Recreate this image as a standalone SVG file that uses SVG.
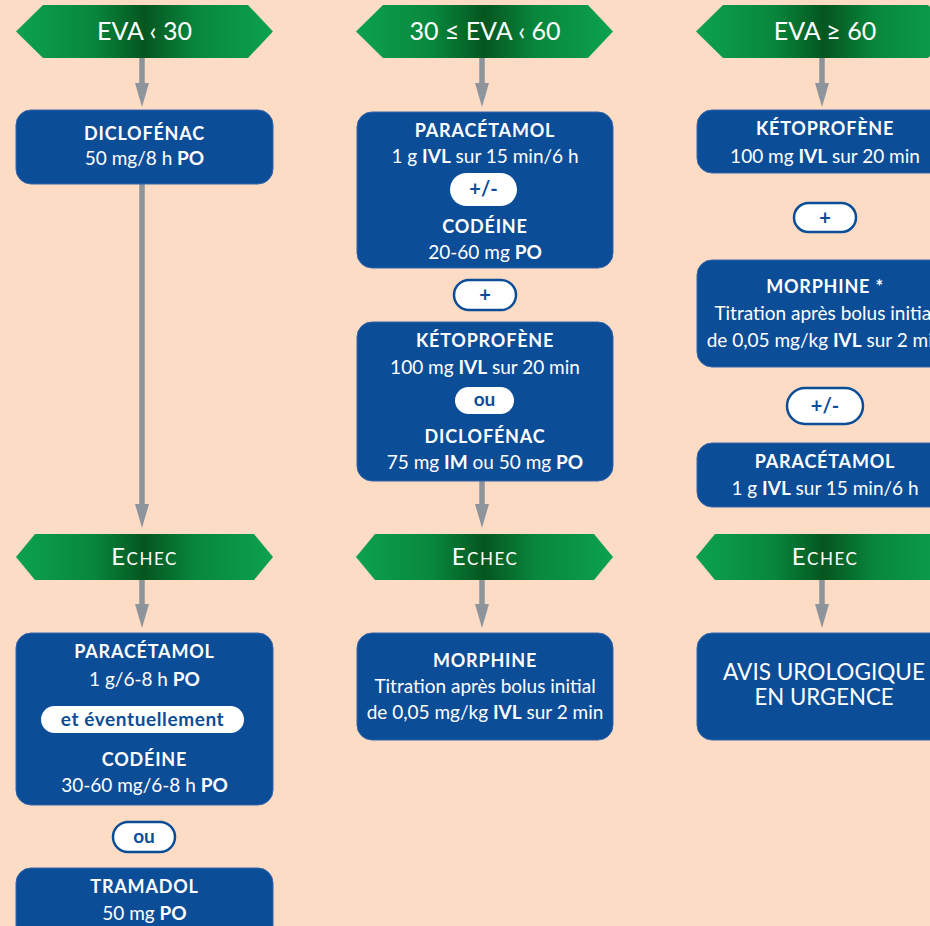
<svg xmlns="http://www.w3.org/2000/svg" width="930" height="926" viewBox="0 0 930 926">
<defs>
<linearGradient id="grn" x1="0" y1="0" x2="1" y2="0">
<stop offset="0" stop-color="#0ca24d"/>
<stop offset="0.3" stop-color="#08873d"/>
<stop offset="0.5" stop-color="#05561f"/>
<stop offset="0.7" stop-color="#08873d"/>
<stop offset="1" stop-color="#0ca24d"/>
</linearGradient>
<marker id="ah" markerUnits="userSpaceOnUse" viewBox="0 -7 24 14" markerWidth="24" markerHeight="14" refX="12" refY="0" orient="auto">
<path d="M0,-7 L24,0 L0,7 z" fill="#8e949b"/>
</marker>
<style>
.ban{fill:url(#grn)}
.bt{fill:#fff;font-family:Lato,"Open Sans",sans-serif;font-size:25px;text-anchor:middle}
.et{fill:#fff;font-family:Lato,"Open Sans",sans-serif;font-size:24px;font-variant:small-caps;letter-spacing:1.5px;text-anchor:middle}
.box{fill:#0c4d98;stroke:#3465a9;stroke-width:1}
.t{fill:#fff;font-family:Lato,"Open Sans",sans-serif;font-size:19px;text-anchor:middle}
.h{font-weight:bold;letter-spacing:0.8px;font-size:18px}
.b{font-weight:bold}
.big{fill:#fff;font-family:Lato,"Open Sans",sans-serif;font-size:23px;text-anchor:middle}
.pill{fill:#fff}
.opill{fill:#fff;stroke:#0c4d98;stroke-width:2.5}
.pt{fill:#0c4d98;font-family:Lato,"Open Sans",sans-serif;font-size:20px;font-weight:bold;text-anchor:middle}
.con line{stroke:#8e949b;stroke-width:5.5;marker-end:url(#ah)}
</style>
</defs>
<rect width="930" height="926" fill="#fddcc5"/>

<g class="con" id="connectors">
<line x1="142" y1="58" x2="142" y2="95"/>
<line x1="142" y1="184" x2="142" y2="516"/>
<line x1="142" y1="580" x2="142" y2="616"/>
<line x1="482" y1="58" x2="482" y2="95"/>
<line x1="482" y1="481" x2="482" y2="516"/>
<line x1="482" y1="580" x2="482" y2="616"/>
<line x1="822" y1="58" x2="822" y2="95"/>
<line x1="822" y1="580" x2="822" y2="616"/>
</g>

<g id="h1">
<polygon class="ban" points="16,31.5 43,5 248,5 273,31.5 248,58 43,58"/>
<text class="bt" x="144.5" y="40">EVA ‹ 30</text>
</g>
<g id="h2">
<polygon class="ban" points="356,31.5 383,5 588,5 613,31.5 588,58 383,58"/>
<text class="bt" x="485" y="40">30 ≤ EVA ‹ 60</text>
</g>
<g id="h3">
<polygon class="ban" points="696,31.5 723,5 928,5 953,31.5 928,58 723,58"/>
<text class="bt" x="825" y="40">EVA ≥ 60</text>
</g>

<g id="n1">
<rect class="box" x="16" y="110" width="257" height="74" rx="15"/>
<text class="t" x="144.5" y="140"><tspan class="h">DICLOFÉNAC</tspan></text>
<text class="t" x="144.5" y="165">50 mg/8 h <tspan class="b">PO</tspan></text>
</g>

<g id="n2">
<rect class="box" x="357" y="112" width="256" height="156" rx="15"/>
<text class="t" x="485" y="137"><tspan class="h">PARACÉTAMOL</tspan></text>
<text class="t" x="485" y="163">1 g <tspan class="b">IVL</tspan> sur 15 min/6 h</text>
<rect class="pill" x="450" y="173" width="67" height="33" rx="16.5"/>
<text class="pt" x="483.5" y="196">+/-</text>
<text class="t" x="485" y="233"><tspan class="h">CODÉINE</tspan></text>
<text class="t" x="485" y="259">20-60 mg <tspan class="b">PO</tspan></text>
</g>

<g id="p2">
<rect class="opill" x="454" y="280" width="62" height="30" rx="15"/>
<text class="pt" x="485" y="302">+</text>
</g>

<g id="n3">
<rect class="box" x="357" y="322" width="256" height="159" rx="15"/>
<text class="t" x="485" y="347"><tspan class="h">KÉTOPROFÈNE</tspan></text>
<text class="t" x="485" y="374">100 mg <tspan class="b">IVL</tspan> sur 20 min</text>
<rect class="pill" x="455" y="387" width="59" height="27" rx="13.5"/>
<text class="pt" x="484.5" y="406" style="font-size:19px">ou</text>
<text class="t" x="485" y="443"><tspan class="h">DICLOFÉNAC</tspan></text>
<text class="t" x="485" y="469">75 mg <tspan class="b">IM</tspan> ou 50 mg <tspan class="b">PO</tspan></text>
</g>

<g id="n4">
<rect class="box" x="697" y="110" width="257" height="63" rx="15"/>
<text class="t" x="825" y="135"><tspan class="h">KÉTOPROFÈNE</tspan></text>
<text class="t" x="825" y="163">100 mg <tspan class="b">IVL</tspan> sur 20 min</text>
</g>

<g id="p4">
<rect class="opill" x="794" y="203" width="62" height="29" rx="14.5"/>
<text class="pt" x="825" y="225">+</text>
</g>

<g id="n5">
<rect class="box" x="697" y="260" width="257" height="107" rx="15"/>
<text class="t" x="825" y="293"><tspan class="h">MORPHINE *</tspan></text>
<text class="t" x="825" y="320">Titration après bolus initial</text>
<text class="t" x="825" y="347">de 0,05 mg/kg <tspan class="b">IVL</tspan> sur 2 min</text>
</g>

<g id="p5">
<rect class="opill" x="787" y="388" width="76" height="36" rx="18"/>
<text class="pt" x="825" y="413">+/-</text>
</g>

<g id="n6">
<rect class="box" x="697" y="443" width="257" height="64" rx="15"/>
<text class="t" x="825" y="468"><tspan class="h">PARACÉTAMOL</tspan></text>
<text class="t" x="825" y="495">1 g <tspan class="b">IVL</tspan> sur 15 min/6 h</text>
</g>

<g id="e1">
<polygon class="ban" points="16,557 35,534 254,534 273,557 254,580 35,580"/>
<text class="et" x="144.5" y="565">Echec</text>
</g>
<g id="e2">
<polygon class="ban" points="356,557 375,534 594,534 613,557 594,580 375,580"/>
<text class="et" x="485" y="565">Echec</text>
</g>
<g id="e3">
<polygon class="ban" points="696,557 715,534 934,534 953,557 934,580 715,580"/>
<text class="et" x="825" y="565">Echec</text>
</g>

<g id="n7">
<rect class="box" x="16" y="633" width="257" height="172" rx="15"/>
<text class="t" x="144.5" y="658"><tspan class="h">PARACÉTAMOL</tspan></text>
<text class="t" x="144.5" y="686">1 g/6-8 h <tspan class="b">PO</tspan></text>
<rect class="pill" x="41" y="706" width="203" height="27" rx="13.5"/>
<text class="pt" x="142.5" y="726" style="font-size:19px;letter-spacing:0.6px">et éventuellement</text>
<text class="t" x="144.5" y="766"><tspan class="h">CODÉINE</tspan></text>
<text class="t" x="144.5" y="792">30-60 mg/6-8 h <tspan class="b">PO</tspan></text>
</g>

<g id="p7">
<rect class="opill" x="113" y="822" width="62" height="30" rx="15"/>
<text class="pt" x="144" y="843" style="font-size:19px">ou</text>
</g>

<g id="n8">
<rect class="box" x="16" y="868" width="257" height="80" rx="15"/>
<text class="t" x="144.5" y="893"><tspan class="h">TRAMADOL</tspan></text>
<text class="t" x="144.5" y="920">50 mg <tspan class="b">PO</tspan></text>
</g>

<g id="n9">
<rect class="box" x="357" y="633" width="256" height="107" rx="15"/>
<text class="t" x="485" y="667"><tspan class="h">MORPHINE</tspan></text>
<text class="t" x="485" y="693">Titration après bolus initial</text>
<text class="t" x="485" y="719">de 0,05 mg/kg <tspan class="b">IVL</tspan> sur 2 min</text>
</g>

<g id="n10">
<rect class="box" x="697" y="633" width="257" height="107" rx="15"/>
<text class="big" x="824" y="680" textLength="202" lengthAdjust="spacingAndGlyphs">AVIS UROLOGIQUE</text>
<text class="big" x="824" y="705" textLength="139" lengthAdjust="spacingAndGlyphs">EN URGENCE</text>
</g>
</svg>
